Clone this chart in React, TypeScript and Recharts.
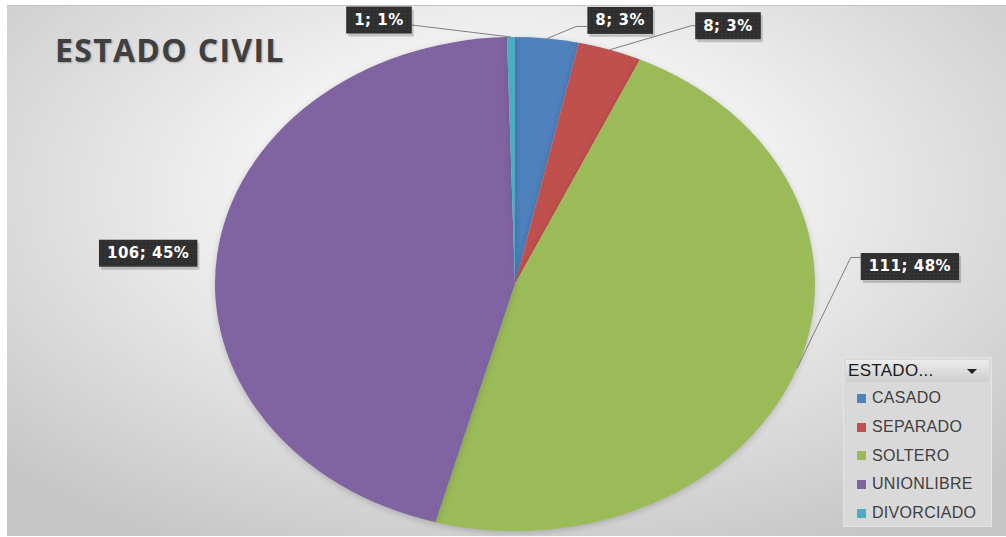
import React from 'react';
import { PieChart, Pie, Cell, Legend } from 'recharts';

const TITLE = 'ESTADO CIVIL';
const LEGEND_TITLE = 'ESTADO...';
const CATEGORIES = ['CASADO', 'SEPARADO', 'SOLTERO', 'UNIONLIBRE', 'DIVORCIADO'];
const COUNTS = [8, 8, 111, 106, 1];
const PERCENT_LABELS = ['3%', '3%', '48%', '45%', '1%'];
const COLORS = ['#4F81BD', '#C0504D', '#9BBB59', '#8064A2', '#4BACC6'];

// label box placement relative to slice anchor: [dx, dy, leaderAttachDy, elbow]
const LABEL_LAYOUT = [
  [73, -18, 6, 11],
  [118, -24, 0, 4],
  [113, -102, -9, 10],
  [-69, -1, 0, 0],
  [-132, -17, 5, 0],
];
const LABEL_LEADER = [true, true, true, false, true];

const data = CATEGORIES.map((name, i) => ({ name, value: COUNTS[i] }));

const CX = 515;
const CY = 284;
const R = 247;
const SX = 300 / 247;

const CHAR_W: Record<string, number> = { ';': 6.0, ' ': 5.2, '%': 15.0 };
const textWidth = (s: string) =>
  s.split('').reduce((a, c) => a + (CHAR_W[c] ?? 10.44) + 0.5, 0);

const renderLabel = (props: any) => {
  const { cx, cy, midAngle, outerRadius, index } = props;
  const rad = (midAngle * Math.PI) / 180;
  const ax = cx + outerRadius * SX * Math.cos(rad);
  const ay = cy - outerRadius * Math.sin(rad);
  const [dx, dy, attachDy, elbow] = LABEL_LAYOUT[index];
  const text = `${COUNTS[index]}; ${PERCENT_LABELS[index]}`;
  const w = textWidth(text) + 16;
  const h = 27;
  const bx = ax + dx;
  const by = ay + dy;
  const left = bx - w / 2;
  const right = bx + w / 2;
  let points = '';
  if (LABEL_LEADER[index]) {
    const yA = by + attachDy;
    if (bx > ax) {
      points = `${ax},${ay} ${left - elbow},${yA} ${left},${yA}`;
    } else {
      points = `${ax},${ay} ${right + elbow},${yA} ${right},${yA}`;
    }
  }
  return (
    <g key={`lbl-${index}`}>
      {index === 0 && (
        <defs>
          <pattern id="dotpat" width="4" height="4" patternUnits="userSpaceOnUse">
            <rect width="4" height="4" fill="#2f2f2f" />
            <rect x="1" y="1" width="1" height="1" fill="#464646" />
          </pattern>
        </defs>
      )}
      {points && <polyline points={points} fill="none" stroke="#7f7f7f" strokeWidth={1} />}
      <rect x={left + 2} y={by - h / 2 + 3} width={w} height={h} fill="rgba(0,0,0,0.18)" />
      <rect x={left} y={by - h / 2} width={w} height={h} fill="url(#dotpat)" />
      <text
        x={bx}
        y={by + 5}
        textAnchor="middle"
        fill="#ffffff"
        fontFamily="DejaVu Sans, Verdana, sans-serif"
        fontWeight="bold"
        fontSize={15}
        letterSpacing={0.5}
      >
        {text}
      </text>
    </g>
  );
};

const renderLegend = (props: any) => {
  const payload: any[] = props.payload && props.payload.length ? props.payload : [];
  const items = CATEGORIES.map((name, i) => {
    const p = payload.find((e) => e.value === name);
    return { name, color: (p && p.color) || COLORS[i] };
  });
  return (
    <div
      style={{
        width: 149,
        height: 170,
        boxSizing: 'border-box',
        background: '#d9d9d9',
        border: '1px solid #e4e4e4',
        padding: 2,
        fontFamily: '"Liberation Sans", Arial, sans-serif',
      }}
    >
      <div
        style={{
          height: 22,
          background: 'linear-gradient(#ececec, #cdcdcd)',
          position: 'relative',
          fontSize: 17,
          lineHeight: '22px',
          color: '#1a1a1a',
          paddingLeft: 2,
          letterSpacing: 0.3,
        }}
      >
        {LEGEND_TITLE}
        <span
          style={{
            position: 'absolute',
            right: 12,
            top: 9,
            width: 0,
            height: 0,
            borderLeft: '5px solid transparent',
            borderRight: '5px solid transparent',
            borderTop: '5px solid #222',
          }}
        />
      </div>
      <div style={{ paddingTop: 2 }}>
        {items.map((it) => (
          <div
            key={it.name}
            style={{
              height: 28.7,
              display: 'flex',
              alignItems: 'center',
              paddingLeft: 11,
              fontSize: 16,
              color: '#404040',
              letterSpacing: 0.3,
            }}
          >
            <span
              style={{
                display: 'inline-block',
                width: 9,
                height: 9,
                background: it.color,
                marginRight: 6,
              }}
            />
            {it.name}
          </div>
        ))}
      </div>
    </div>
  );
};

export default function App() {
  return (
    <div
      className="pie-el"
      style={{ position: 'absolute', left: 0, top: 0, width: 1006, height: 537, background: '#ffffff', overflow: 'hidden' }}
    >
      <style>{`.pie-el .recharts-sector{transform:scaleX(${SX});transform-origin:${CX}px ${CY}px;}
.pie-el .recharts-pie-sector{filter:drop-shadow(0px 2px 3px rgba(0,0,0,0.18));}`}</style>
      <div
        style={{
          position: 'absolute',
          left: 7,
          top: 5,
          width: 999,
          height: 531,
          boxSizing: 'border-box',
          borderTop: '1px solid #c4c4c4',
          background:
            'radial-gradient(ellipse 70% 75% at 50% 35%, #ffffff 0%, #f3f3f3 35%, #c6c6c6 100%)',
        }}
      />
      <div
        style={{
          position: 'absolute',
          left: 55,
          top: 34,
          fontFamily: '"Open Sans", sans-serif',
          fontWeight: 700,
          fontSize: 32,
          lineHeight: '32px',
          color: '#404040',
          letterSpacing: 1.3,
          textShadow: '1px 1px 2px rgba(0,0,0,0.25)',
          whiteSpace: 'nowrap',
        }}
      >
        {TITLE}
      </div>
      <div style={{ position: 'absolute', left: 0, top: 0 }}>
        <PieChart width={1006} height={537} margin={{ top: 0, right: 0, bottom: 0, left: 0 }}>
          <Pie
            data={data}
            dataKey="value"
            nameKey="name"
            cx={CX}
            cy={CY}
            outerRadius={R}
            startAngle={90}
            endAngle={-270}
            stroke="none"
            label={renderLabel}
            labelLine={false}
            isAnimationActive={false}
          >
            {data.map((d, i) => (
              <Cell key={d.name} fill={COLORS[i]} />
            ))}
          </Pie>
          <Legend
            layout="vertical"
            align="right"
            verticalAlign="bottom"
            content={renderLegend}
            wrapperStyle={{ left: 843, top: 357, right: 'auto', bottom: 'auto', width: 149, height: 170 }}
          />
        </PieChart>
      </div>
    </div>
  );
}
